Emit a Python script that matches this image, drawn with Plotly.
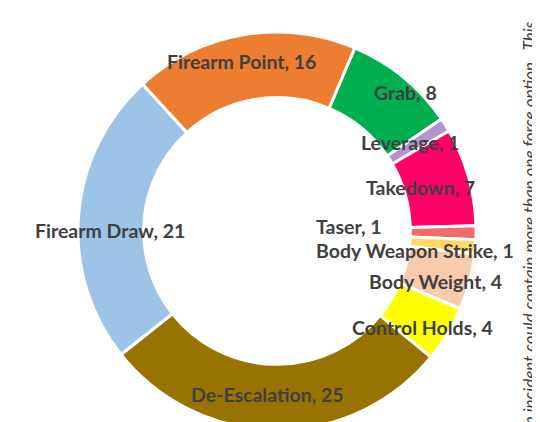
import plotly.graph_objects as go

labels = ["Grab", "Leverage", "Takedown", "Taser", "Body Weapon Strike",
          "Body Weight", "Control Holds", "De-Escalation", "Firearm Draw", "Firearm Point"]
values = [8, 1, 7, 1, 1, 4, 4, 25, 21, 16]
colors = ["#00B050", "#B394CE", "#FF0066", "#F26B6B", "#FFD966",
          "#F8CBAD", "#FFFF00", "#997300", "#9DC3E6", "#ED7D31"]
# label centre positions in screen pixels (x, y from top)
label_pos = [(405, 92), (410, 143), (420, 187), (349, 226), (415, 250),
             (435, 281), (422, 327), (267, 394), (110, 231), (241, 62)]
note = "Each incident could contain more than one force option.  This"

W, H = 540, 422
OFF = 8  # page body margin
cx, cy, R = 277 - OFF, 231 - OFF, 199

fig = go.Figure(go.Pie(
    labels=labels, values=values, sort=False, direction="clockwise",
    rotation=23, hole=0.67, textinfo="none", hoverinfo="label+value",
    marker=dict(colors=colors, line=dict(color="white", width=3)),
    domain=dict(x=[(cx - R) / W, (cx + R) / W], y=[1 - (cy + R) / H, 1 - (cy - R) / H]),
    showlegend=False,
))

for lab, val, (px, py) in zip(labels, values, label_pos):
    fig.add_annotation(x=(px - OFF) / W, y=1 - (py - OFF) / H, xref="paper", yref="paper",
                       text=f"<b>{lab}, {val}</b>", showarrow=False,
                       xanchor="center", yanchor="middle",
                       font=dict(family="Lato", size=19.5, color="#404040"))

fig.add_annotation(x=(529 - OFF) / W, y=1 - (20 - OFF) / H, xref="paper", yref="paper",
                   text=f"<i>{note}</i>", showarrow=False, textangle=-90,
                   xanchor="center", yanchor="top",
                   font=dict(family="Lato", size=17, color="#404040"))

fig.update_layout(width=W, height=H, margin=dict(l=0, r=0, t=0, b=0),
                  paper_bgcolor="white", plot_bgcolor="white")
fig.write_html("out.html")
